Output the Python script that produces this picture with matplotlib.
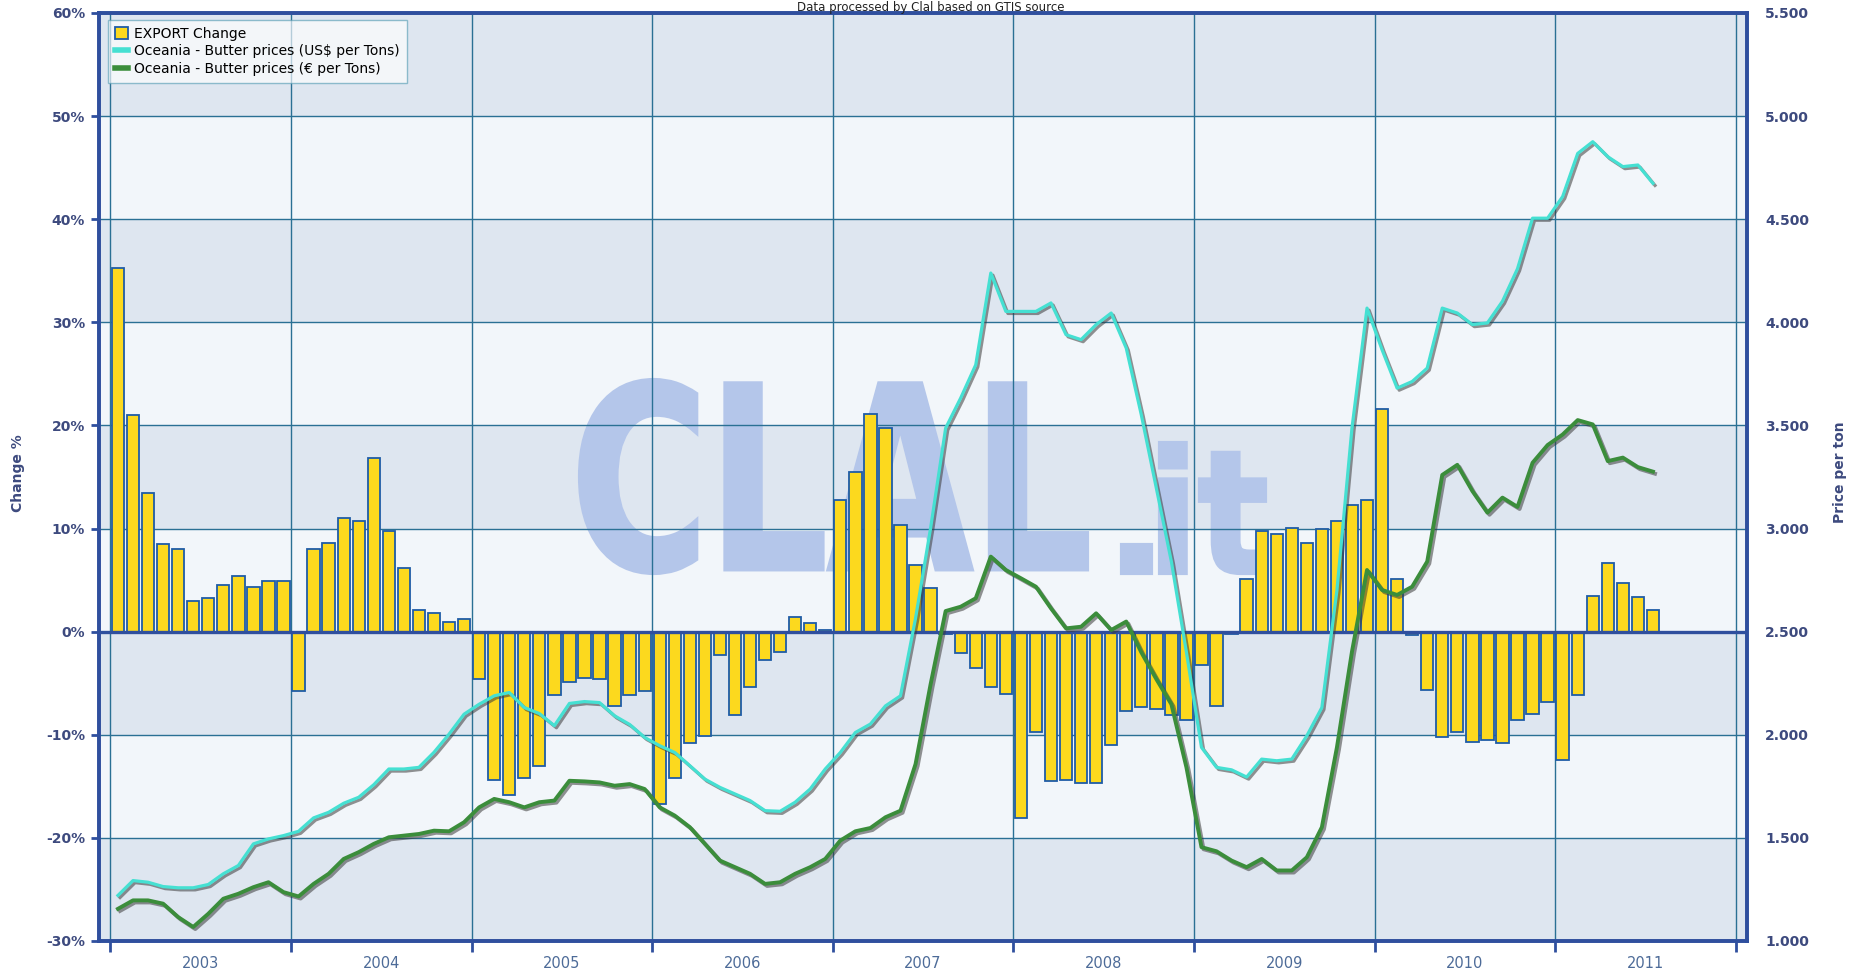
import numpy as np
import matplotlib
matplotlib.use("Agg")
import matplotlib.pyplot as plt
import matplotlib.patheffects as pe
import matplotlib.ticker as mticker
from matplotlib.textpath import TextPath
from matplotlib.font_manager import FontProperties
from matplotlib.patches import PathPatch, Patch
from matplotlib.lines import Line2D
from matplotlib.transforms import Affine2D

# --- data (monthly, Jan 2003 .. Jul 2011) ---
years = [str(y) for y in range(2003, 2012)]

export_change = [
    35.3, 21.0, 13.4, 8.5, 8.0, 3.0, 3.3, 4.5, 5.4, 4.3, 4.9, 4.9,
    -5.8, 8.0, 8.6, 11.0, 10.7, 16.8, 9.8, 6.2, 2.1, 1.8, 0.9, 1.2,
    -4.6, -14.4, -15.8, -14.2, -13.0, -6.1, -4.9, -4.5, -4.6, -7.2, -6.1, -5.8,
    -16.7, -14.2, -10.8, -10.1, -2.3, -8.1, -5.4, -2.7, -2.0, 1.4, 0.8, 0.2,
    12.8, 15.5, 21.1, 19.8, 10.3, 6.5, 4.2, -0.2, -2.1, -3.5, -5.4, -6.0,
    -18.1, -9.7, -14.5, -14.4, -14.7, -14.7, -11.0, -7.7, -7.3, -7.5, -8.1, -8.6,
    -3.2, -7.2, -0.2, 5.1, 9.8, 9.5, 10.1, 8.6, 10.0, 10.7, 12.3, 12.8,
    21.6, 5.1, -0.3, -5.7, -10.2, -9.7, -10.7, -10.5, -10.8, -8.6, -8.0, -6.8,
    -12.4, -6.1, 3.5, 6.7, 4.7, 3.4, 2.1,
]

usd_price = [
    1221, 1293, 1285, 1264, 1258, 1258, 1274, 1326, 1366, 1471, 1495, 1511,
    1532, 1597, 1624, 1668, 1697, 1758, 1834, 1834, 1842, 1915, 2003, 2100,
    2148, 2189, 2205, 2132, 2103, 2044, 2152, 2161, 2156, 2092, 2050, 1987,
    1947, 1914, 1850, 1785, 1745, 1713, 1681, 1632, 1629, 1673, 1737, 1834,
    1914, 2011, 2052, 2140, 2189, 2565, 3002, 3487, 3633, 3794, 4239, 4053,
    4053, 4053, 4094, 3940, 3916, 3989, 4045, 3875, 3552, 3196, 2840, 2400,
    1939, 1842, 1830, 1795, 1882, 1874, 1882, 1995, 2132, 2700, 3487, 4069,
    3867, 3681, 3713, 3778, 4069, 4045, 3989, 3997, 4102, 4260, 4505, 4505,
    4610, 4819, 4876, 4803, 4755, 4763, 4674,
]

eur_price = [
    1156, 1197, 1197, 1181, 1116, 1068, 1132, 1205, 1229, 1261, 1285, 1237,
    1216, 1277, 1326, 1398, 1431, 1471, 1503, 1511, 1519, 1535, 1532, 1576,
    1648, 1689, 1673, 1648, 1673, 1681, 1777, 1774, 1769, 1753, 1761, 1737,
    1648, 1608, 1552, 1471, 1390, 1358, 1326, 1277, 1285, 1326, 1358, 1398,
    1487, 1532, 1548, 1600, 1632, 1858, 2245, 2600, 2621, 2662, 2864, 2799,
    2759, 2718, 2613, 2516, 2524, 2589, 2508, 2549, 2400, 2270, 2148, 1842,
    1455, 1435, 1390, 1358, 1398, 1342, 1342, 1406, 1552, 1939, 2403, 2799,
    2702, 2678, 2718, 2840, 3260, 3309, 3182, 3077, 3150, 3105, 3319, 3405,
    3456, 3526, 3505, 3327, 3344, 3298, 3276,
]

# colours
BAR_YELLOW = "#fcd91e"
BAR_EDGE = "#1f5ca6"
CYAN = "#45e0d2"
GREEN = "#3b8d3b"
AXIS_BLUE = "#2f4f9e"
GRID = "#2a7094"
TICK_TXT = "#3d4a7e"
YEAR_TXT = "#4d6b98"
BAND_DARK = "#dee6f0"
BAND_LIGHT = "#f2f6fa"
WATERMARK = "#b4c6ea"

W, H = 1863, 973
fig = plt.figure(figsize=(W / 100, H / 100), dpi=100)
fig.patch.set_facecolor("white")

# axes box in pixels: left 99, right 1747, top 13, bottom 941
ax = fig.add_axes([99 / W, 1 - 941 / H, (1747 - 99) / W, (941 - 13) / H])
ax2 = ax.twinx()

n = len(export_change)
x = np.arange(n) + 0.5

# background bands
for i, lo in enumerate(range(50, -31, -10)):
    ax.axhspan(lo, lo + 10, color=BAND_DARK if i % 2 == 0 else BAND_LIGHT,
               lw=0, zorder=0.1)

# watermark "CLAL.it" fitted into pixel boxes
def add_mark(text, x0, y0, x1, y1):
    tp = TextPath((0, 0), text, size=100,
                  prop=FontProperties(family="DejaVu Sans", weight="bold"))
    ext = tp.get_extents()
    tr = (Affine2D().translate(-ext.x0, -ext.y0)
          .scale((x1 - x0) / ext.width, (y1 - y0) / ext.height)
          .translate(x0, H - y1))
    p = PathPatch(tp, transform=tr, facecolor=WATERMARK, edgecolor=WATERMARK,
                  lw=3, zorder=0.3)
    ax.add_artist(p)

add_mark("CLAL", 580, 380, 1087, 573)
add_mark("it", 1160, 443, 1265, 573)
add_mark(".", 1122, 545, 1151, 573)

# bars
ax.bar(x, export_change, width=0.82, color=BAR_YELLOW, edgecolor=BAR_EDGE,
       linewidth=1.3, zorder=2)
ax.axhline(0, color=AXIS_BLUE, lw=2.4, zorder=3)

# price lines
shadow = [pe.SimpleLineShadow(offset=(1.5, -1.5), shadow_color="#3a3a3a", alpha=0.55),
          pe.Normal()]
ax2.plot(x, usd_price, color=CYAN, lw=2.3, zorder=4, path_effects=shadow)
ax2.plot(x, eur_price, color=GREEN, lw=2.8, zorder=4, path_effects=shadow)

# limits / ticks
ax.set_xlim(-0.76, 108.75)
ax.set_ylim(-30, 60)
ax2.set_ylim(1000, 5500)

ax.set_yticks(range(-30, 61, 10))
ax.yaxis.set_major_formatter(mticker.FuncFormatter(lambda v, p: f"{v:.0f}%"))
ax2.set_yticks(range(1000, 5501, 500))
ax2.yaxis.set_major_formatter(
    mticker.FuncFormatter(lambda v, p: f"{v:,.0f}".replace(",", ".")))

ax.set_xticks(np.arange(0, 109, 12))
ax.set_xticklabels([])
ax.set_xticks(np.arange(6, 108, 12), minor=True)
ax.set_xticklabels(years, minor=True)

ax.tick_params(axis="x", which="major", length=8, width=2, color=AXIS_BLUE)
ax.tick_params(axis="x", which="minor", length=0, pad=11, labelsize=10.5,
               labelcolor=YEAR_TXT)
ax.tick_params(axis="y", length=6, width=2, color=AXIS_BLUE, pad=4,
               labelsize=10)
ax2.tick_params(axis="y", length=0, pad=13, labelsize=10)
for lab in ax.get_yticklabels() + ax2.get_yticklabels():
    lab.set_fontweight("bold")
    lab.set_color(TICK_TXT)

ax.grid(True, which="major", color=GRID, lw=1.0)
ax.set_axisbelow(True)
for a in (ax, ax2):
    for s in a.spines.values():
        s.set_color(AXIS_BLUE)
        s.set_linewidth(2.6)

# axis titles and source line
fig.text(18 / W, 1 - 473 / H, "Change %", rotation=90, ha="center", va="center",
         fontsize=10, fontweight="bold", color=TICK_TXT)
fig.text(1840 / W, 1 - 472 / H, "Price per ton", rotation=90, ha="center",
         va="center", fontsize=10, fontweight="bold", color=TICK_TXT)
fig.text(931 / W, 1 - 0.5 / H, "Data processed by Clal based on GTIS source",
         ha="center", va="top", fontsize=8.5, color="#222222")

# legend
handles = [Patch(facecolor=BAR_YELLOW, edgecolor=BAR_EDGE, lw=1.3),
           Line2D([], [], color=CYAN, lw=4),
           Line2D([], [], color=GREEN, lw=4)]
labels = ["EXPORT Change", "Oceania - Butter prices (US$ per Tons)",
          "Oceania - Butter prices (\u20ac per Tons)"]
leg = ax.legend(handles, labels, loc="upper left", bbox_to_anchor=(0.0055, 0.9925),
                fontsize=10, frameon=True, fancybox=False, edgecolor="#5a9fb5",
                framealpha=0.65, borderpad=0.5, labelspacing=0.25,
                handlelength=0.9, handleheight=0.9, handletextpad=0.5,
                borderaxespad=0)
leg.get_frame().set_linewidth(1.0)
leg.set_zorder(6)

fig.savefig("out.png", dpi=100)
